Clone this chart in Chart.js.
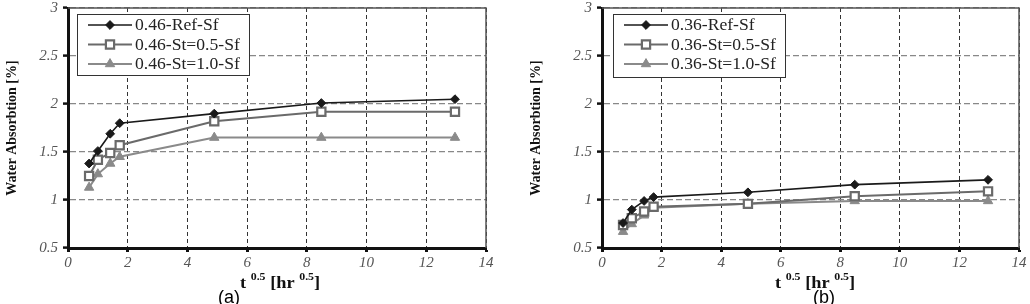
<!DOCTYPE html>
<html>
<head>
<meta charset="utf-8">
<script src="https://cdn.jsdelivr.net/npm/chart.js@4/dist/chart.umd.min.js"></script>
<style>
  html, body { margin: 0; padding: 0; background: #fff; }
  #wrap { position: relative; width: 1030px; height: 304px; overflow: hidden; }
  canvas { position: absolute; top: 0; }
  #cA { left: 0; }
  #cB { left: 515px; }
</style>
</head>
<body>
<div id="wrap">
  <canvas id="cA" width="515" height="304"></canvas>
  <canvas id="cB" width="515" height="304"></canvas>
</div>
<script>
/* t^0.5 in hr^0.5 : 0.5, 1, 2, 3, 24, 72, 168 h */
const T_SQRT = [0.707, 1.0, 1.414, 1.732, 4.899, 8.485, 12.961];

/* (a) w/c 0.46 */
const REF_046  = [1.38, 1.51, 1.69, 1.80, 1.90, 2.01, 2.05];
const ST05_046 = [1.25, 1.42, 1.49, 1.57, 1.82, 1.92, 1.92];
const ST10_046 = [1.13, 1.27, 1.38, 1.45, 1.65, 1.65, 1.65];

/* (b) w/c 0.36 */
const REF_036  = [0.76, 0.90, 0.99, 1.03, 1.08, 1.16, 1.21];
const ST05_036 = [0.74, 0.81, 0.88, 0.93, 0.96, 1.04, 1.09];
const ST10_036 = [0.67, 0.75, 0.84, 0.92, 0.96, 0.99, 0.99];

const LABELS_A = ['0.46-Ref-Sf', '0.46-St=0.5-Sf', '0.46-St=1.0-Sf'];
const LABELS_B = ['0.36-Ref-Sf', '0.36-St=0.5-Sf', '0.36-St=1.0-Sf'];

const X_TICKS = { min: 0, max: 14, step: 2 };
const Y_TICKS = { min: 0.5, max: 3, step: 0.5 };

const SERIF = '"Liberation Serif", "DejaVu Serif", serif';
const SANS  = '"Liberation Sans", Arial, sans-serif';

/* ---------- series styles ---------- */
const STYLE = [
  { color: '#1a1a1a', fill: '#1a1a1a', point: 'rectRot',  r: 4.4, bw: 1,   lw: 1.6 },
  { color: '#6a6a6a', fill: '#ffffff', point: 'rect',     r: 5.8, bw: 2.2, lw: 2   },
  { color: '#8a8a8a', fill: '#8a8a8a', point: 'triangle', r: 5.4, bw: 1,   lw: 2   }
];

function makeSet (label, ys, st) {
  return {
    label,
    data: T_SQRT.map((x, i) => ({ x, y: ys[i] })),
    borderColor: st.color,
    borderWidth: st.lw,
    backgroundColor: st.fill,
    pointStyle: st.point,
    pointRadius: st.r,
    pointBackgroundColor: st.fill,
    pointBorderColor: st.color,
    pointBorderWidth: st.bw,
    tension: 0
  };
}

/* marker drawing: library helper if there, own fallback */
function marker (ctx, st, x, y) {
  ctx.fillStyle = st.fill;
  ctx.strokeStyle = st.color;
  ctx.lineWidth = st.bw;
  if (Chart.helpers && Chart.helpers.drawPoint) {
    Chart.helpers.drawPoint(ctx, { pointStyle: st.point, radius: st.r, borderWidth: st.bw, rotation: 0 }, x, y);
    return;
  }
  ctx.beginPath();
  if (st.point === 'rectRot') {
    ctx.moveTo(x - st.r, y); ctx.lineTo(x, y - st.r); ctx.lineTo(x + st.r, y); ctx.lineTo(x, y + st.r);
  } else if (st.point === 'rect') {
    const s = st.r * Math.SQRT1_2; ctx.rect(x - s, y - s, 2 * s, 2 * s);
  } else {
    ctx.moveTo(x, y - st.r); ctx.lineTo(x + st.r * 0.866, y + st.r / 2); ctx.lineTo(x - st.r * 0.866, y + st.r / 2);
  }
  ctx.closePath(); ctx.fill(); ctx.stroke();
}

/* text squeezed/stretched horizontally, the scan is a bit wide */
function wideText (ctx, txt, x, y, sx) {
  ctx.save();
  ctx.translate(x, y);
  ctx.scale(sx, 1);
  ctx.fillText(txt, 0, 0);
  ctx.restore();
  return ctx.measureText(txt).width * sx;
}

/* ---------- frame, inner legend, x title, panel tag ---------- */
const decor = {
  id: 'decor',
  afterDraw (chart, args, o) {
    const { ctx, chartArea: a } = chart;
    ctx.save();

    // top + right frame
    ctx.setLineDash([]);
    ctx.strokeStyle = '#555';
    ctx.lineWidth = 1.5;
    ctx.beginPath();
    ctx.moveTo(a.left, a.top);
    ctx.lineTo(a.right, a.top);
    ctx.lineTo(a.right, a.bottom);
    ctx.stroke();

    // legend box
    const bx = a.left + o.legX, by = a.top + o.legY;
    ctx.fillStyle = '#fff';
    ctx.fillRect(bx, by, o.legW, o.legH);
    ctx.strokeStyle = '#333';
    ctx.lineWidth = 1;
    ctx.strokeRect(bx + 0.5, by + 0.5, o.legW, o.legH);

    ctx.font = '16px ' + SERIF;
    ctx.textBaseline = 'middle';
    ctx.textAlign = 'left';
    chart.data.datasets.forEach((ds, i) => {
      const st = STYLE[i];
      const y = by + 11 + i * 19.5;
      ctx.strokeStyle = st.color;
      ctx.lineWidth = st.lw;
      ctx.beginPath();
      ctx.moveTo(bx + 11, y);
      ctx.lineTo(bx + 55, y);
      ctx.stroke();
      marker(ctx, st, bx + 33, y);
      ctx.fillStyle = '#222';
      wideText(ctx, ds.label, bx + 58, y + 1, 1.1);
    });

    // x title:  t^0.5 [hr^0.5]
    let x = a.left + o.titleX;
    const base = 288;
    ctx.fillStyle = '#111';
    ctx.textBaseline = 'alphabetic';
    const part = (txt, size, dy) => {
      ctx.font = 'bold ' + size + 'px ' + SERIF;
      x += wideText(ctx, txt, x, base + dy, 1.08);
    };
    part('t ', 17, 0);
    part('0.5', 11, -8);
    part(' [hr ', 17, 0);
    part('0.5', 11, -8);
    part(']', 17, 0);

    // panel tag
    ctx.font = '18px ' + SANS;
    ctx.textAlign = 'center';
    ctx.fillStyle = '#000';
    ctx.fillText(o.tag, o.tagX, 303);

    ctx.restore();
  }
};

function buildChart (id, labels, series, o) {
  const sets = series.map((ys, i) => makeSet(labels[i], ys, STYLE[i]));
  return new Chart(document.getElementById(id), {
    type: 'line',
    data: { datasets: sets },
    plugins: [decor],
    options: {
      responsive: false,
      animation: false,
      devicePixelRatio: 1,
      layout: { padding: { left: 0, right: o.padRight, top: 8, bottom: 0 } },
      scales: {
        x: {
          type: 'linear',
          min: X_TICKS.min,
          max: X_TICKS.max,
          afterFit: s => { s.height = 56; s.paddingLeft = 0; s.paddingRight = 0; },
          ticks: {
            stepSize: X_TICKS.step,
            padding: 2,
            color: '#555',
            font: { family: SERIF, size: 15, style: 'italic' }
          },
          grid: {
            color: '#333',
            lineWidth: 1,
            tickLength: 4,
            tickWidth: 3,
            tickColor: '#111',
            tickBorderDash: []
          },
          border: { color: '#111', width: 3, dash: [4, 3] }
        },
        y: {
          min: Y_TICKS.min,
          max: Y_TICKS.max,
          afterFit: s => { s.width = o.yWidth; s.paddingTop = 0; s.paddingBottom = 0; },
          ticks: {
            stepSize: Y_TICKS.step,
            padding: 5,
            color: '#555',
            font: { family: SERIF, size: 15, style: 'italic' },
            callback: v => String(v)
          },
          grid: {
            color: '#888',
            lineWidth: 1.2,
            tickLength: 5,
            tickWidth: 2.5,
            tickColor: '#111',
            tickBorderDash: []
          },
          border: { color: '#111', width: 3, dash: [6, 3] },
          title: {
            display: true,
            text: 'Water Absorbtion [%]',
            color: '#111',
            font: { family: SERIF, size: 14, weight: 'bold' },
            padding: { top: o.yTitlePad, bottom: 0 }
          }
        }
      },
      plugins: {
        legend: { display: false },
        tooltip: { enabled: false },
        decor: o
      }
    }
  });
}

buildChart('cA', LABELS_A, [REF_046, ST05_046, ST10_046], {
  padRight: 29, yWidth: 68, yTitlePad: 4,
  legX: 9, legY: 6, legW: 172, legH: 61,
  titleX: 172, tag: '(a)', tagX: 229
});

buildChart('cB', LABELS_B, [REF_036, ST05_036, ST10_036], {
  padRight: 11, yWidth: 87, yTitlePad: 13,
  legX: 11, legY: 6, legW: 172, legH: 63,
  titleX: 173, tag: '(b)', tagX: 309
});
</script>
</body>
</html>
